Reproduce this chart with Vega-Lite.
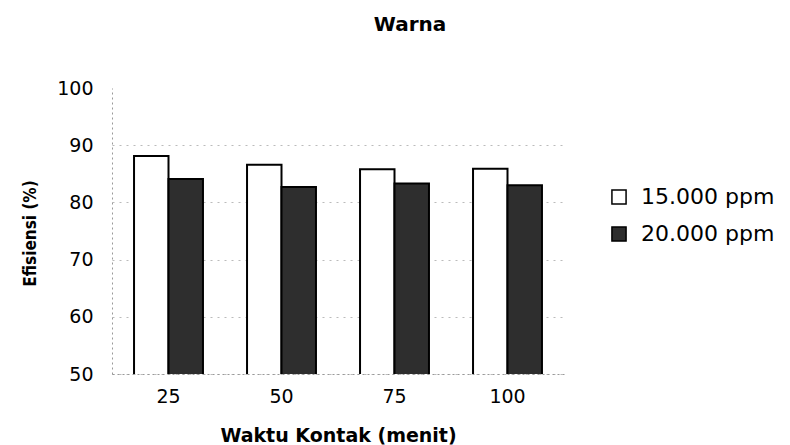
{
  "$schema": "https://vega.github.io/schema/vega-lite/v6.json",
  "autosize": "none",
  "width": 452,
  "height": 286,
  "padding": {"left": 112, "top": 88, "right": 226, "bottom": 71},
  "background": "white",
  "title": {"text": "Warna", "font": "DejaVu Sans", "fontSize": 20, "fontWeight": "bold", "color": "black", "dx": 72, "offset": 44, "anchor": "middle"},
  "data": {"values": [
    {"waktu": "25", "seri": "15.000 ppm", "efisiensi": 88.1},
    {"waktu": "25", "seri": "20.000 ppm", "efisiensi": 84.1},
    {"waktu": "50", "seri": "15.000 ppm", "efisiensi": 86.6},
    {"waktu": "50", "seri": "20.000 ppm", "efisiensi": 82.7},
    {"waktu": "75", "seri": "15.000 ppm", "efisiensi": 85.8},
    {"waktu": "75", "seri": "20.000 ppm", "efisiensi": 83.3},
    {"waktu": "100", "seri": "15.000 ppm", "efisiensi": 85.9},
    {"waktu": "100", "seri": "20.000 ppm", "efisiensi": 83.0}
  ]},
  "mark": {"type": "bar", "stroke": "black", "strokeWidth": 2, "clip": true},
  "encoding": {
    "x": {"field": "waktu", "type": "nominal", "sort": ["25", "50", "75", "100"],
      "scale": {"paddingInner": 0.39, "paddingOuter": 0.195},
      "axis": {"title": "Waktu Kontak (menit)", "titleFont": "DejaVu Sans", "titleFontSize": 19, "titleFontWeight": "bold", "titleColor": "black", "titleY": 52, "titleBaseline": "top",
        "labelAngle": 0, "labelFont": "DejaVu Sans", "labelFontSize": 19, "labelColor": "black", "labelPadding": 13, "labelDx": 2, "ticks": false,
        "domain": true, "domainColor": "#999999", "domainDash": [2, 3], "domainWidth": 1}},
    "xOffset": {"field": "seri", "type": "nominal", "scale": {"paddingInner": 0}},
    "y": {"field": "efisiensi", "type": "quantitative",
      "scale": {"domain": [50, 100], "zero": false, "nice": false},
      "axis": {"title": "Efisiensi (%)", "titleFont": "DejaVu Sans Condensed", "titleFontSize": 17, "titleFontWeight": "bold", "titleColor": "black", "titleX": -82, "titleY": 145, "titleAngle": -90, "titleBaseline": "middle", "titleAnchor": "middle",
        "values": [50, 60, 70, 80, 90, 100], "labelFont": "DejaVu Sans", "labelFontSize": 19, "labelColor": "black", "labelPadding": 19, "ticks": false,
        "domain": true, "domainColor": "#999999", "domainDash": [2, 3], "domainWidth": 1,
        "grid": true, "gridColor": "#bbbbbb", "gridDash": [2, 5], "gridWidth": 1,
        "gridOpacity": {"condition": {"test": "datum.value == 100", "value": 0}, "value": 1}}},
    "fill": {"field": "seri", "type": "nominal",
      "scale": {"domain": ["15.000 ppm", "20.000 ppm"], "range": ["#ffffff", "#2e2e2e"]},
      "legend": {"title": null, "orient": "none", "legendX": 496, "legendY": 98, "symbolType": "square", "symbolSize": 200, "symbolStrokeColor": "black", "symbolStrokeWidth": 1.5,
        "labelFont": "DejaVu Sans", "labelFontSize": 22, "labelColor": "black", "rowPadding": 15, "labelOffset": 11}}
  },
  "config": {"view": {"stroke": null}}
}
